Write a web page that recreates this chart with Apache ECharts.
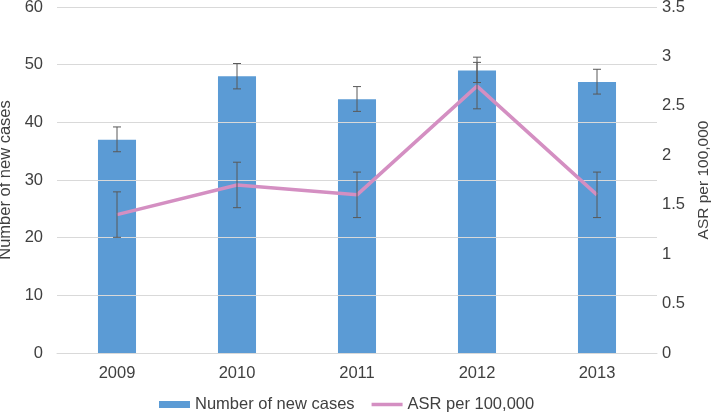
<!DOCTYPE html>
<html><head><meta charset="utf-8">
<script src="https://cdn.jsdelivr.net/npm/echarts@6/dist/echarts.min.js"></script>
<style>html,body{margin:0;padding:0;background:#fff}#c{width:715px;height:412px}</style>
</head><body><div id="c"></div>
<script>
const years = ['2009','2010','2011','2012','2013'];
const cases = [37, 48, 44, 49, 47];
const casesLow = [34.9, 45.8, 41.9, 46.9, 44.9];
const casesHigh = [39.2, 50.2, 46.2, 51.3, 49.2];
const asr = [1.4, 1.7, 1.6, 2.7, 1.6];
const asrLow = [1.17, 1.47, 1.37, 2.47, 1.37];
const asrHigh = [1.63, 1.93, 1.83, 2.94, 1.83];

const FONT = "'Liberation Sans', Arial, sans-serif";
const TXT = '#404040';
const FS = 16.5;

function errData(lo, hi) { return years.map((y, i) => [i, lo[i], hi[i]]); }
function errRender(params, api) {
  const x = api.value(0);
  const p1 = api.coord([x, api.value(1)]);
  const p2 = api.coord([x, api.value(2)]);
  const hw = 4;
  const st = { stroke: '#595959', lineWidth: 1 };
  return { type: 'group', children: [
    { type: 'line', shape: { x1: p1[0], y1: p1[1], x2: p2[0], y2: p2[1] }, style: st },
    { type: 'line', shape: { x1: p1[0]-hw, y1: p1[1], x2: p1[0]+hw, y2: p1[1] }, style: st },
    { type: 'line', shape: { x1: p2[0]-hw, y1: p2[1], x2: p2[0]+hw, y2: p2[1] }, style: st }
  ]};
}

const chart = echarts.init(document.getElementById('c'), null, { renderer: 'canvas' });
chart.setOption({
  animation: false,
  textStyle: { fontFamily: FONT },
  grid: { left: 57, right: 58, top: 7, bottom: 59, containLabel: false, outerBoundsMode: 'none' },
  legend: {
    top: 391, left: 154, itemWidth: 31, itemHeight: 7, itemGap: 17,
    textStyle: { fontSize: FS, color: TXT, fontFamily: FONT },
    data: [
      { name: 'Number of new cases', icon: 'rect' },
      { name: 'ASR per 100,000', icon: 'path://M0,0L31,0L31,3.5L0,3.5Z' }
    ]
  },
  xAxis: {
    type: 'category', data: years,
    axisLine: { lineStyle: { color: '#d9d9d9' } },
    axisTick: { show: false },
    axisLabel: { fontSize: FS, color: TXT, margin: 12, fontFamily: FONT }
  },
  yAxis: [
    { type: 'value', min: 0, max: 60, interval: 10, z: 3,
      name: 'Number of new cases', nameLocation: 'middle', nameGap: 38,
      nameTextStyle: { fontSize: FS, color: TXT, fontFamily: FONT },
      axisLabel: { fontSize: FS, color: TXT, margin: 14, fontFamily: FONT },
      splitLine: { lineStyle: { color: '#d9d9d9', width: 1 } },
      axisLine: { show: false }, axisTick: { show: false } },
    { type: 'value', min: 0, max: 3.5, interval: 0.5, position: 'right',
      name: 'ASR per 100,000', nameLocation: 'middle', nameGap: 37, nameRotate: 90,
      nameTextStyle: { fontSize: 15.5, color: TXT, fontFamily: FONT },
      axisLabel: { fontSize: FS, color: TXT, margin: 5, fontFamily: FONT },
      splitLine: { show: false }, axisLine: { show: false }, axisTick: { show: false } }
  ],
  series: [
    { name: 'Number of new cases', type: 'bar', data: cases, barWidth: '31.7%', z: 2,
      itemStyle: { color: '#5b9bd5' } },
    { name: 'ASR per 100,000', type: 'line', yAxisIndex: 1, data: asr, z: 4,
      symbol: 'none', lineStyle: { color: '#d48fc2', width: 3.5 }, itemStyle: { color: '#d48fc2' } },
    { name: 'casesErr', type: 'custom', data: errData(casesLow, casesHigh), renderItem: errRender, z: 5,
      encode: { x: 0, y: [1, 2] } },
    { name: 'asrErr', type: 'custom', yAxisIndex: 1, data: errData(asrLow, asrHigh), renderItem: errRender, z: 5,
      encode: { x: 0, y: [1, 2] } }
  ]
});
</script></body></html>
